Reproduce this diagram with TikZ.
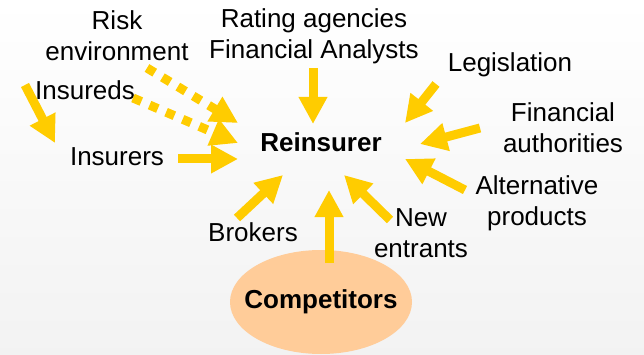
\documentclass[tikz,border=0pt]{standalone}
\usepackage{fontspec}
\setmainfont{Liberation Sans}
\usetikzlibrary{arrows.meta,shapes.geometric}

\definecolor{flowyellow}{RGB}{255,204,0}
\definecolor{peach}{RGB}{255,204,153}

\begin{document}
\begin{tikzpicture}[
    x=1pt, y=-1pt,
    label text/.style={align=center, inner sep=0pt, font=\fontsize{26}{31}\selectfont},
    key text/.style={label text, font=\fontsize{26}{31}\selectfont\bfseries},
    force/.style={flowyellow, line width=9pt, -{Triangle[length=27pt, width=27pt]}},
    weak force/.style={force, dash pattern=on 9pt off 9pt}
    ]
    % background
    \shade[top color=white, bottom color=black!5] (0,0) rectangle (644,355);
    \useasboundingbox (0,0) rectangle (644,355);

    % the actors
    \node[ellipse, fill=peach, minimum width=182pt, minimum height=104pt, inner sep=0pt] (competitors) at (321,302) {};
    \node[key text] at (competitors) {Competitors};
    \node[key text] (reinsurer) at (321,142) {Reinsurer};
    \node[label text] (risk) at (117,36) {Risk\\environment};
    \node[label text] (rating) at (314,36) {Rating agencies\\Financial Analysts};
    \node[label text] (insureds) at (85,90) {Insureds};
    \node[label text] (insurers) at (117,157) {Insurers};
    \node[label text] (legislation) at (510,65) {Legislation};
    \node[label text] (finauth) at (563,128) {Financial\\authorities};
    \node[label text] (altprod) at (537,203) {Alternative\\products};
    \node[label text] (newent) at (421,233) {New\\entrants};
    \node[label text] (brokers) at (253,232) {Brokers};

    % arrow ends
    \coordinate (risk a) at (147,68);   \coordinate (risk a tip) at (238,123);
    \coordinate (risk b) at (133,98);   \coordinate (risk b tip) at (238,143);
    \coordinate (insureds a) at (25,85); \coordinate (insureds tip) at (55,143);
    \coordinate (insurers a) at (178,159); \coordinate (insurers tip) at (238,159);
    \coordinate (rating a) at (313,68); \coordinate (rating tip) at (313,124);
    \coordinate (legis a) at (436,84); \coordinate (legis tip) at (405,123);
    \coordinate (finauth a) at (480,128); \coordinate (finauth tip) at (420,144);
    \coordinate (alt a) at (465,190); \coordinate (alt tip) at (405,159);
    \coordinate (new a) at (390,220); \coordinate (new tip) at (344,175);
    \coordinate (comp a) at (329,263); \coordinate (comp tip) at (329,190);
    \coordinate (brok a) at (237,218); \coordinate (brok tip) at (283,175);

    % forces
    \draw[weak force] (risk a) -- (risk a tip);
    \draw[weak force] (risk b) -- (risk b tip);
    \draw[force] (insureds a) -- (insureds tip);
    \draw[force] (insurers a) -- (insurers tip);
    \draw[force] (rating a) -- (rating tip);
    \draw[force] (legis a) -- (legis tip);
    \draw[force] (finauth a) -- (finauth tip);
    \draw[force] (alt a) -- (alt tip);
    \draw[force] (new a) -- (new tip);
    \draw[force] (comp a) -- (comp tip);
    \draw[force] (brok a) -- (brok tip);
\end{tikzpicture}
\end{document}
